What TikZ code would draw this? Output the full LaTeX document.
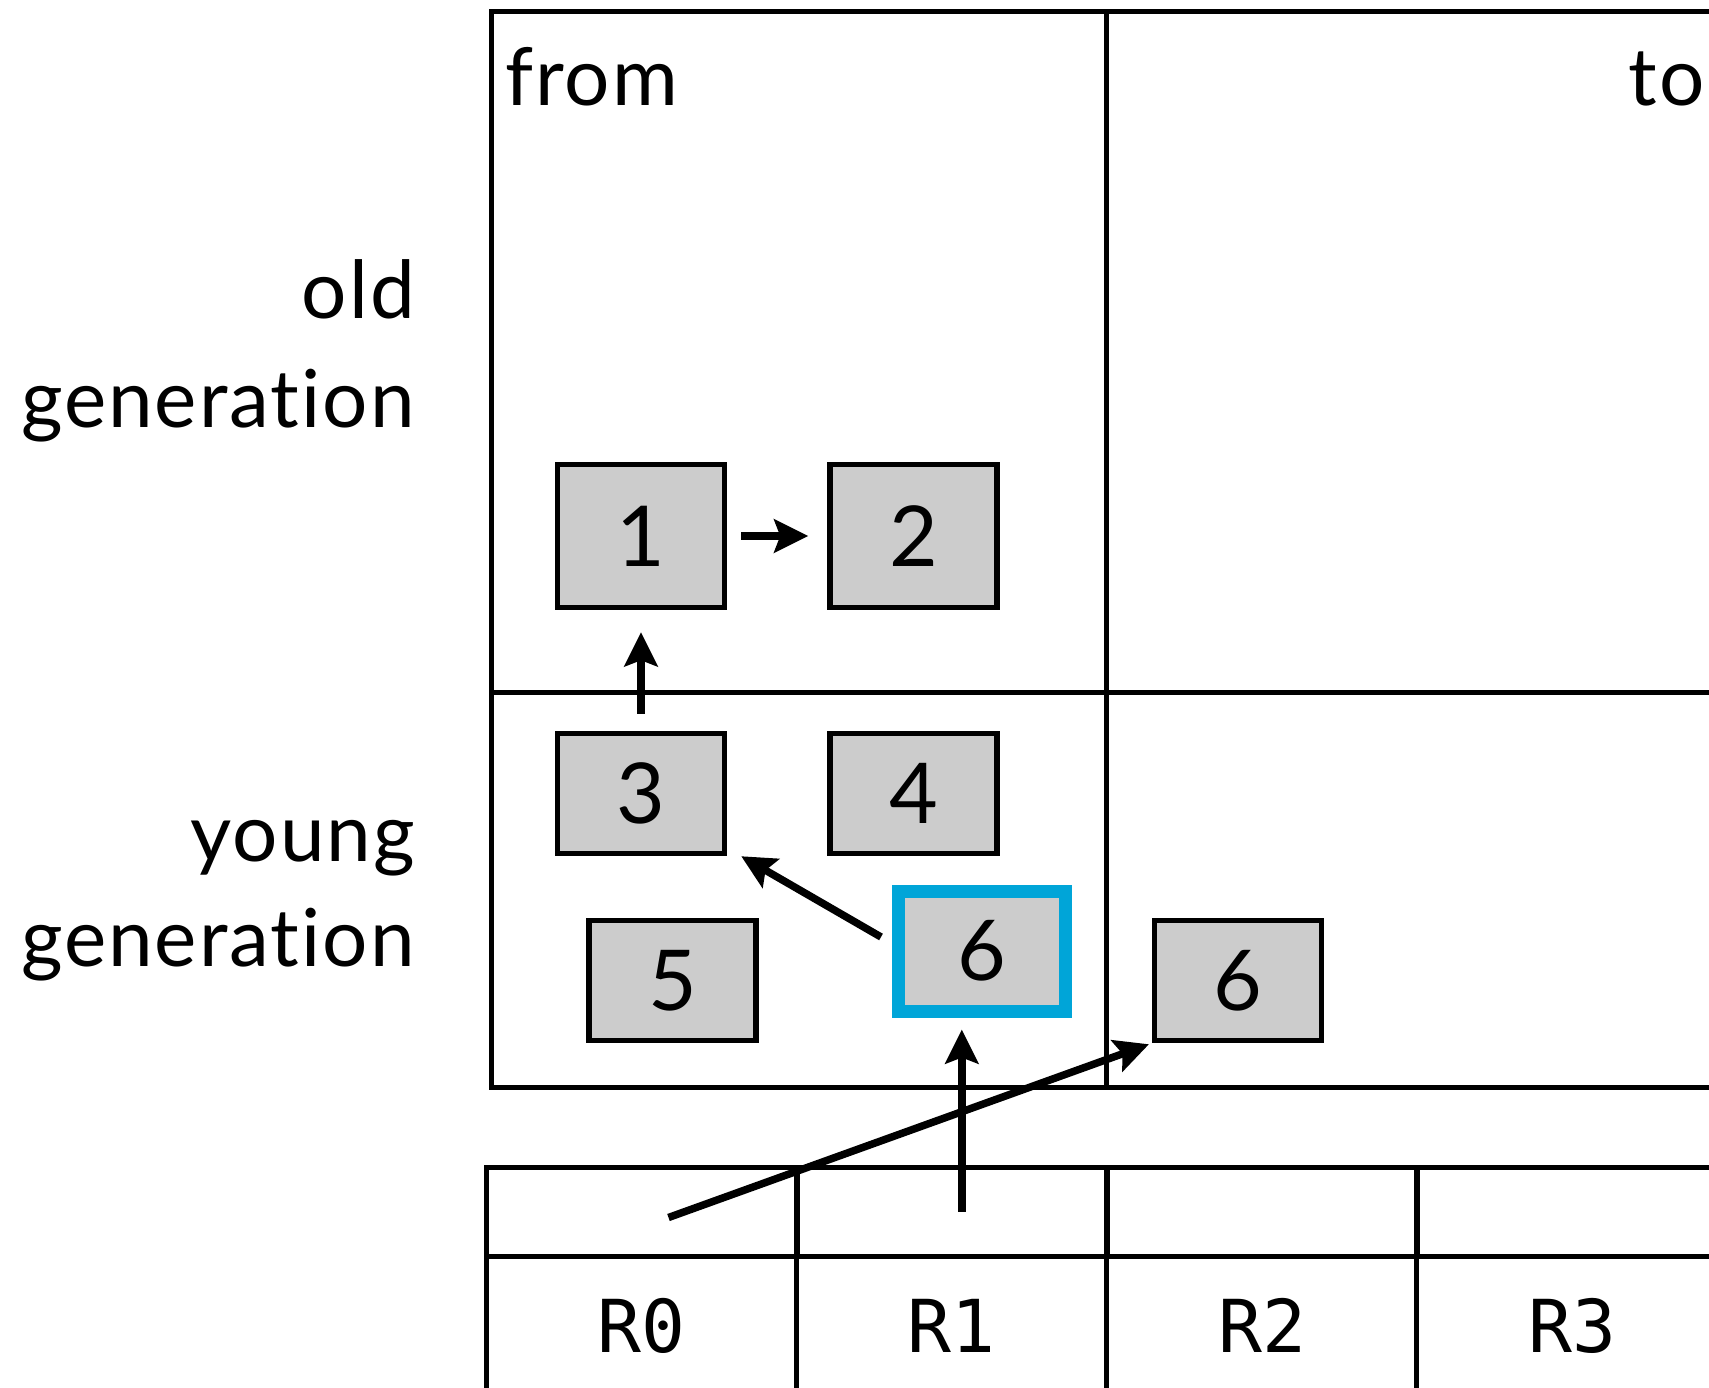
\documentclass[tikz,border=0pt]{standalone}
\usepackage{fontspec}
\setmainfont{Lato}[Ligatures=CommonOff, LetterSpace=2.5]
\newfontfamily\regfont{DejaVu Sans Mono}
\usetikzlibrary{arrows.meta,positioning}
\definecolor{objgray}{RGB}{204,204,204}
\definecolor{markblue}{RGB}{0,165,216}

\begin{document}
\begin{tikzpicture}[x=1pt, y=-1pt,
  obj/.style={draw, line width=5.5pt, fill=objgray, minimum width=167pt, minimum height=120pt, inner sep=0, font=\fontsize{84}{84}\selectfont},
  tall/.style={minimum height=143pt},
  marked/.style={draw=markblue, line width=13pt},
  slot/.style={draw, line width=5pt, minimum width=311pt, minimum height=89pt, inner sep=0, outer sep=0},
  lbl/.style={inner sep=0, font=\fontsize{80}{80}\selectfont},
  reg/.style={inner sep=0, font=\regfont\fontsize{73}{73}\selectfont},
  arrow/.style={-{Stealth[length=34pt, width=33pt, inset=6pt]}, line width=7.5pt}
]
  \useasboundingbox (0,0) rectangle (1709,1388);
  \clip (0,0) rectangle (1709,1388);

  % Heap: from / to spaces, old / young generation
  \draw[line width=5pt] (491.5,12) rectangle (1800,1087);
  \draw[line width=5pt] (1106,12) -- (1106,1087);
  \draw[line width=5pt] (491.5,692) -- (1800,692);
  \node[lbl, anchor=base west] (from) at (505,106) {from};
  \node[lbl, anchor=base east] (to) at (1705,106) {to};

  % Generation labels
  \node[lbl, anchor=base east] (old) at (415,319) {old};
  \node[lbl, anchor=base east] (oldgen) at (415,428) {generation};
  \node[lbl, anchor=base east] (young) at (415,861) {young};
  \node[lbl, anchor=base east] (younggen) at (415,966) {generation};

  % Objects
  \node[obj, tall] (o1) at (641,536) {1};
  \node[obj, tall] (o2) at (913.5,536) {2};
  \node[obj] (o3) at (641,793.5) {3};
  \node[obj] (o4) at (913.5,793.5) {4};
  \node[obj] (o5) at (672.5,980.5) {5};
  \node[obj, marked] (o6) at (982,951) {6};
  \node[obj] (c6) at (1238,980.5) {6};

  % Register table
  \foreach \i in {0,...,3} {
    \node[slot] (slot\i) at (641.5+310.3*\i,1211.5) {};
    \draw[line width=5pt] (slot\i.south west) -- ++(0,200);
    \node[reg, anchor=base] (r\i) at (641.5+310.3*\i,1352) {R\i};
  }

  % References
  \draw[arrow, shorten <=14pt, shorten >=19pt] (o1) -- (o2);
  \draw[arrow, shorten <=17pt, shorten >=22pt] (o3) -- (o1);
  \draw[arrow] ([xshift=-11pt, yshift=14pt]o6.west) -- ([xshift=14pt]o3.south east);
  \draw[arrow, shorten >=12pt] ([xshift=10pt]slot1.center) -- ([xshift=10pt]slot1.center |- o6.south);
  \draw[arrow, shorten >=3pt] ([xshift=27pt, yshift=-6pt]slot0.center) -- (c6.south west);
\end{tikzpicture}
\end{document}
